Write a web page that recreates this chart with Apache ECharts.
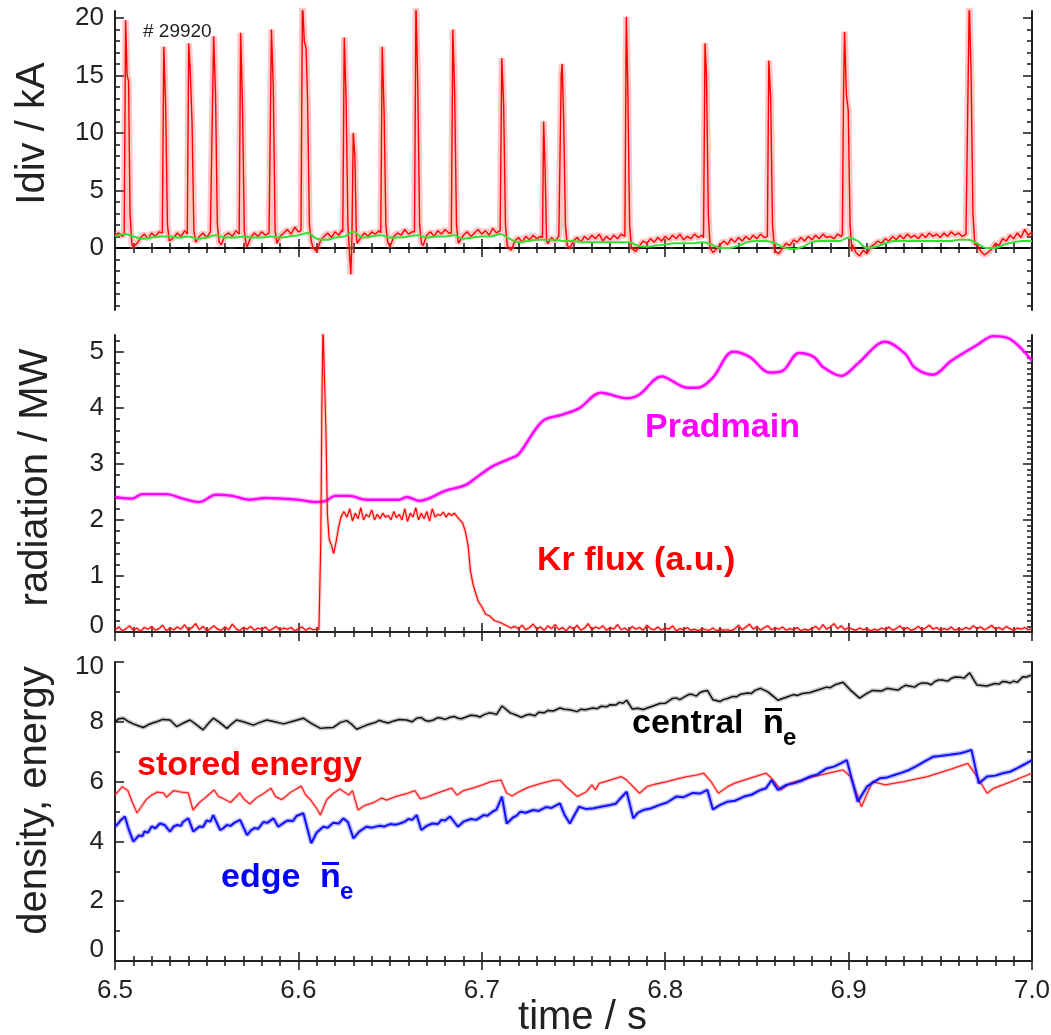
<!DOCTYPE html>
<html>
<head>
<meta charset="utf-8">
<title>#29920 divertor current, radiation, density and stored energy</title>
<script src="https://cdn.jsdelivr.net/npm/echarts@6/dist/echarts.min.js"></script>
<style>
  html, body { margin: 0; padding: 0; background: #ffffff; }
  #chart { width: 1051px; height: 1035px; }
</style>
</head>
<body>
<div id="chart"></div>
<script>
// ---------------- data ----------------
// Divertor current (kA): background trace sampled every 2 ms from 6.500 s
const idivStart = 6.5, idivStep = 0.002;
const idivBase = [
  1.1, 1.3, 1.0, 1.2, 0.9, 0.1, 0.4, 0.9, 1.2, 0.8,
  1.3, 1.0, 1.4, 1.1, 1.2, 0.5, 0.9, 1.3, 1.0, 1.5,
  1.1, 0.8, 0.2, 1.0, 1.3, 0.9, 1.4, 1.2, 0.8, 0.3,
  1.1, 1.3, 1.0, 1.5, 1.2, 0.9, 0.1, 0.9, 1.3, 1.0,
  1.4, 1.1, 1.3, 0.8, 0.2, 1.0, 1.3, 1.6, 1.2, 1.8,
  1.4, 1.5, 1.2, 0.9, 0.0, -0.3, 0.6, 1.0, 1.3, 0.9,
  1.4, 1.1, 1.6, 1.2, -0.4, 1.0, 0.4, 0.9, 1.3, 1.0,
  1.4, 1.2, 1.5, 1.1, 0.6, 0.1, 1.0, 1.3, 1.1, 1.6,
  1.2, 1.4, 1.2, 0.8, 0.2, 1.1, 1.4, 1.0, 1.5, 1.2,
  1.6, 1.3, 1.2, 0.7, 0.3, 1.1, 1.4, 1.0, 1.3, 1.6,
  1.2, 1.5, 1.1, 1.7, 1.3, 1.5, 1.0, 0.2, -0.2, 0.6,
  0.9, 0.5, 1.0, 0.7, 1.1, 0.8, 1.0, 0.8, 0.4, 0.9,
  0.6, 1.0, 0.8, 0.3, 0.0, 0.6, 0.9, 0.5, 1.0, 0.7,
  1.1, 0.8, 1.2, 0.6, 1.0, 0.7, 1.1, 0.8, 1.2, 0.9,
  0.7, 0.1, -0.3, 0.2, 0.6, 0.4, 0.8, 0.5, 0.9, 0.6,
  1.0, 0.7, 1.1, 0.8, 1.2, 0.7, 1.0, 0.8, 1.2, 0.9,
  1.1, 0.8, 0.0, -0.4, -0.1, 0.3, 0.6, 0.3, 0.8, 0.5,
  0.9, 0.6, 1.0, 0.7, 1.1, 0.8, 1.2, 0.9, 1.0, 0.2,
  -0.3, -0.5, 0.0, 0.4, 0.2, 0.7, 0.5, 0.9, 0.6, 1.0,
  0.7, 1.1, 0.8, 1.2, 0.9, 1.0, 0.8, 1.2, 1.0, 1.3,
  1.1, 0.3, -0.4, -0.7, -0.2, -0.5, 0.1, 0.3, 0.6, 0.4,
  0.8, 0.6, 1.0, 0.7, 1.1, 0.8, 1.2, 0.9, 1.1, 0.8,
  1.2, 0.9, 1.3, 1.0, 1.2, 0.9, 1.3, 1.0, 1.4, 1.1,
  1.3, 1.0, 1.2, 1.1, 0.9, 0.3, -0.3, -0.6, -0.4, -0.1,
  0.4, 0.2, 0.8, 0.6, 1.1, 0.8, 1.3, 0.9, 1.6, 1.1,
  1.4
];
// ELM bursts in the divertor current: [time (s), current (kA)]
const idivBursts = [
  [[6.5050, 1.2], [6.5058, 19.8], [6.5066, 15.0], [6.5074, 14.5], [6.5082, 3.0], [6.5092, 0.3]],
  [[6.5258, 1.3], [6.5266, 17.5], [6.5276, 12.5], [6.5286, 2.0], [6.5296, 0.6]],
  [[6.5394, 1.2], [6.5402, 17.8], [6.5410, 15.5], [6.5420, 11.0], [6.5430, 1.5], [6.5440, 0.5]],
  [[6.5530, 1.3], [6.5538, 18.4], [6.5548, 13.5], [6.5558, 2.0], [6.5568, 0.5]],
  [[6.5677, 1.2], [6.5685, 18.7], [6.5695, 12.5], [6.5705, 1.5], [6.5715, 0.3]],
  [[6.5845, 1.2], [6.5853, 19.0], [6.5863, 14.0], [6.5873, 1.5], [6.5883, 0.4]],
  [[6.6014, 1.5], [6.6022, 21.5], [6.6032, 18.0], [6.6042, 17.3], [6.6050, 13.0], [6.6060, 2.0], [6.6070, 0.6]],
  [[6.6242, 1.4], [6.6250, 18.3], [6.6260, 13.0], [6.6270, 2.0], [6.6278, -0.3], [6.6286, -2.3],
   [6.6292, 1.0], [6.6299, 10.0], [6.6308, 8.0], [6.6316, 1.0]],
  [[6.6449, 1.3], [6.6457, 17.5], [6.6467, 12.0], [6.6477, 2.0], [6.6487, 0.5]],
  [[6.6633, 1.4], [6.6641, 21.5], [6.6651, 14.0], [6.6661, 2.0], [6.6671, 0.4]],
  [[6.6834, 1.3], [6.6842, 19.0], [6.6852, 13.5], [6.6862, 2.0], [6.6872, 0.4]],
  [[6.7101, 1.5], [6.7109, 16.5], [6.7119, 12.5], [6.7129, 2.0], [6.7139, 0.2]],
  [[6.7331, 0.9], [6.7337, 11.0], [6.7345, 7.0], [6.7353, 0.6]],
  [[6.7425, 1.0], [6.7433, 15.0], [6.7438, 16.0], [6.7446, 11.5], [6.7456, 2.0], [6.7466, 0.2]],
  [[6.7780, 1.0], [6.7788, 20.1], [6.7796, 14.0], [6.7806, 2.0], [6.7816, 0.0]],
  [[6.8209, 0.9], [6.8217, 17.8], [6.8225, 15.0], [6.8235, 3.0], [6.8245, 0.0]],
  [[6.8557, 1.0], [6.8565, 16.3], [6.8575, 13.0], [6.8585, 2.0], [6.8595, 0.0]],
  [[6.8966, 1.2], [6.8972, 13.0], [6.8978, 18.8], [6.8988, 13.3], [6.8998, 12.0], [6.9008, 2.0], [6.9018, -0.3]],
  [[6.9650, 1.2], [6.9658, 21.5], [6.9668, 15.0], [6.9678, 3.0], [6.9688, 0.3]]
];
// Smoothed divertor current (kA), every 5 ms from 6.500 s
const idivSmoothStep = 0.005;
const idivSmooth = [
  1.0, 1.2, 1.0, 0.8, 0.9, 1.0, 1.0, 0.9, 1.0, 0.8,
  0.9, 1.1, 0.9, 0.9, 1.0, 0.9, 0.9, 1.0, 0.9, 1.0,
  1.1, 1.3, 0.8, 0.7, 0.9, 1.0, 1.4, 0.9, 1.0, 1.1,
  0.9, 0.9, 1.0, 1.1, 0.9, 1.0, 1.0, 1.1, 0.8, 0.9,
  1.0, 1.0, 1.2, 0.8, 0.5, 0.6, 0.7, 0.7, 0.7, 0.6,
  0.6, 0.5, 0.5, 0.5, 0.5, 0.5, 0.5, 0.2, 0.1, 0.2,
  0.3, 0.4, 0.4, 0.4, 0.5, 0.3, 0.0, 0.0, 0.2, 0.5,
  0.6, 0.6, 0.4, 0.0, -0.1, 0.1, 0.5, 0.6, 0.6, 0.6,
  0.9, 0.6, 0.0, 0.1, 0.4, 0.6, 0.6, 0.6, 0.6, 0.6,
  0.6, 0.6, 0.7, 0.7, 0.4, 0.0, 0.0, 0.3, 0.5, 0.6,
  0.6
];

// Main-chamber radiated power (MW): [time, value]
const pradMain = [
  [6.500, 2.41], [6.509, 2.38], [6.515, 2.46], [6.528, 2.46], [6.537, 2.38], [6.546, 2.32],
  [6.555, 2.45], [6.564, 2.43], [6.573, 2.36], [6.582, 2.39], [6.600, 2.36], [6.609, 2.32],
  [6.615, 2.34], [6.620, 2.43], [6.628, 2.43], [6.637, 2.36], [6.655, 2.36], [6.659, 2.41],
  [6.666, 2.34], [6.671, 2.38], [6.680, 2.52], [6.691, 2.62], [6.698, 2.78], [6.706, 2.96],
  [6.715, 3.09], [6.720, 3.17], [6.733, 3.76], [6.744, 3.88], [6.753, 3.99], [6.765, 4.27],
  [6.779, 4.17], [6.786, 4.24], [6.798, 4.56], [6.812, 4.36], [6.818, 4.36], [6.826, 4.54],
  [6.837, 5.00], [6.846, 4.91], [6.857, 4.63], [6.864, 4.66], [6.873, 4.98], [6.881, 4.91],
  [6.886, 4.73], [6.896, 4.57], [6.905, 4.79], [6.920, 5.18], [6.931, 4.96], [6.936, 4.72],
  [6.946, 4.59], [6.956, 4.84], [6.970, 5.12], [6.979, 5.28], [6.988, 5.23], [7.000, 4.84]
];
// Kr puff flux (a.u.): quiet signal before the puff, every 2 ms from 6.500 s
const krStep = 0.002;
const krBefore = [
  0.04, 0.09, 0.02, 0.06, 0.11, 0.03, 0.07, 0.01, 0.08, 0.05,
  0.10, 0.03, 0.06, 0.12, 0.02, 0.07, 0.04, 0.09, 0.05, 0.13,
  0.03, 0.08, 0.15, 0.04, 0.10, 0.02, 0.06, 0.11, 0.05, 0.03,
  0.09, 0.04, 0.14, 0.06, 0.02, 0.08, 0.05, 0.10, 0.03, 0.07,
  0.04, 0.09, 0.02, 0.06, 0.10, 0.03, 0.07, 0.05, 0.08, 0.02,
  0.06, 0.09, 0.03, 0.07, 0.04, 0.05
];
// Kr puff flux during the puff: [time, value]
const krPuff = [
  [6.6112, 0.05], [6.6122, 1.60], [6.6128, 4.00], [6.6134, 5.50], [6.6142, 5.50], [6.6150, 3.60],
  [6.6158, 2.10], [6.6168, 1.65], [6.6180, 1.55], [6.6192, 1.40], [6.6205, 1.60], [6.6218, 1.85],
  [6.6232, 2.05], [6.6248, 2.15], [6.6265, 2.05], [6.6280, 2.20], [6.6295, 1.98], [6.6310, 2.12],
  [6.6325, 2.02], [6.6340, 2.22], [6.6355, 2.00], [6.6370, 2.10], [6.6385, 2.05], [6.6400, 2.18],
  [6.6415, 2.00], [6.6430, 2.10], [6.6445, 2.02], [6.6460, 2.12], [6.6475, 2.05], [6.6490, 2.08],
  [6.6505, 2.00], [6.6520, 2.15], [6.6535, 2.04], [6.6550, 2.10], [6.6565, 2.00], [6.6580, 2.20],
  [6.6595, 1.97], [6.6610, 2.12], [6.6625, 2.05], [6.6640, 2.22], [6.6655, 2.00], [6.6670, 2.12],
  [6.6685, 2.02], [6.6700, 2.15], [6.6715, 1.98], [6.6730, 2.20], [6.6745, 2.05], [6.6760, 2.10],
  [6.6775, 2.08], [6.6790, 2.14], [6.6805, 2.05], [6.6820, 2.12], [6.6835, 2.08], [6.6850, 2.12],
  [6.6865, 2.06], [6.6880, 2.00], [6.6895, 1.95], [6.6910, 1.80], [6.6925, 1.55], [6.6938, 1.10],
  [6.6952, 0.85], [6.6966, 0.70], [6.6980, 0.55], [6.7000, 0.45], [6.7020, 0.32], [6.7045, 0.28],
  [6.7070, 0.20], [6.7100, 0.17], [6.7130, 0.12], [6.7160, 0.07]
];
// Kr puff flux after the puff, every 2 ms from 6.718 s
const krAfterStart = 6.718;
const krAfter = [
  0.10, 0.06, 0.12, 0.04, 0.08, 0.14, 0.05, 0.09, 0.03, 0.11,
  0.06, 0.13, 0.04, 0.08, 0.02, 0.10, 0.05, 0.12, 0.03, 0.07,
  0.15, 0.04, 0.09, 0.06, 0.11, 0.03, 0.08, 0.05, 0.13, 0.04,
  0.07, 0.02, 0.10, 0.05, 0.08, 0.03, 0.12, 0.06, 0.04, 0.09,
  0.03, 0.07, 0.05, 0.11, 0.02, 0.06, 0.04, 0.08, 0.03, 0.05,
  0.02, 0.06, 0.04, 0.03, 0.07, 0.02, 0.05, 0.03, 0.04, 0.02,
  0.06, 0.12, 0.04, 0.09, 0.14, 0.05, 0.10, 0.03, 0.08, 0.11,
  0.04, 0.07, 0.05, 0.09, 0.03, 0.06, 0.04, 0.08, 0.02, 0.05,
  0.03, 0.06, 0.10, 0.04, 0.13, 0.05, 0.09, 0.15, 0.06, 0.11,
  0.04, 0.08, 0.05, 0.03, 0.07, 0.04, 0.06, 0.02, 0.05, 0.03,
  0.07, 0.04, 0.09, 0.03, 0.06, 0.11, 0.04, 0.08, 0.03, 0.05,
  0.10, 0.04, 0.07, 0.12, 0.05, 0.08, 0.03, 0.06, 0.04, 0.09,
  0.03, 0.06, 0.04, 0.08, 0.05, 0.11, 0.06, 0.09, 0.04, 0.07,
  0.12, 0.05, 0.08, 0.04, 0.10, 0.06, 0.03, 0.07, 0.05, 0.08,
  0.04, 0.06
];

// Central line-averaged density (1e19 m^-3): [time, value]
const centralNe = [
  [6.500, 8.00], [6.502, 8.10], [6.5045, 8.12], [6.507, 8.02], [6.510, 7.93], [6.513, 7.86],
  [6.5155, 7.81], [6.518, 7.90], [6.5205, 7.96], [6.5227, 8.00], [6.526, 8.08], [6.530, 8.06],
  [6.5336, 7.84], [6.537, 7.95], [6.5409, 8.06], [6.544, 7.92], [6.548, 7.73], [6.551, 7.95],
  [6.5536, 8.12], [6.557, 7.98], [6.561, 7.78], [6.5635, 7.92], [6.5663, 8.06], [6.570, 8.00],
  [6.5754, 7.89], [6.579, 7.98], [6.5827, 8.06], [6.587, 8.00], [6.592, 7.93], [6.597, 8.02],
  [6.6027, 8.12], [6.607, 7.95], [6.612, 7.78], [6.6155, 7.80], [6.619, 7.81], [6.623, 7.98],
  [6.6263, 8.04], [6.629, 7.92], [6.6318, 7.75], [6.6345, 7.82], [6.6372, 7.89], [6.642, 7.98],
  [6.644, 8.05], [6.6463, 8.00], [6.649, 7.96], [6.652, 8.03], [6.655, 8.08], [6.659, 8.06],
  [6.662, 8.00], [6.6645, 8.12], [6.667, 8.14], [6.669, 8.05], [6.671, 8.02], [6.6736, 8.06],
  [6.676, 8.14], [6.678, 8.12], [6.680, 8.08], [6.6827, 8.15], [6.685, 8.18], [6.687, 8.12],
  [6.689, 8.10], [6.6918, 8.17], [6.694, 8.22], [6.697, 8.20], [6.699, 8.16], [6.701, 8.23],
  [6.704, 8.30], [6.7064, 8.28], [6.708, 8.24], [6.711, 8.53], [6.7155, 8.30], [6.719, 8.22],
  [6.7215, 8.15], [6.724, 8.22], [6.726, 8.25], [6.729, 8.20], [6.731, 8.32], [6.734, 8.30],
  [6.736, 8.38], [6.739, 8.36], [6.7426, 8.46], [6.745, 8.42], [6.748, 8.40], [6.752, 8.34],
  [6.754, 8.42], [6.7565, 8.40], [6.7606, 8.46], [6.763, 8.44], [6.765, 8.52], [6.768, 8.50],
  [6.770, 8.57], [6.773, 8.56], [6.775, 8.65], [6.777, 8.62], [6.779, 8.72], [6.782, 8.43],
  [6.785, 8.45], [6.788, 8.41], [6.791, 8.48], [6.793, 8.52], [6.797, 8.61], [6.800, 8.62],
  [6.802, 8.70], [6.804, 8.78], [6.806, 8.80], [6.808, 8.74], [6.811, 8.85], [6.813, 8.92],
  [6.815, 8.91], [6.817, 8.86], [6.819, 8.98], [6.821, 9.02], [6.823, 9.05], [6.826, 8.74],
  [6.830, 8.68], [6.832, 8.75], [6.834, 8.78], [6.837, 8.85], [6.839, 8.84], [6.841, 8.92],
  [6.845, 8.96], [6.847, 8.95], [6.849, 9.05], [6.852, 9.12], [6.856, 9.00], [6.859, 8.85],
  [6.8615, 8.72], [6.864, 8.78], [6.866, 8.82], [6.870, 8.91], [6.872, 8.88], [6.875, 8.95],
  [6.879, 8.98], [6.882, 9.04], [6.884, 9.08], [6.888, 9.16], [6.890, 9.14], [6.893, 9.25],
  [6.897, 9.32], [6.901, 9.06], [6.906, 8.79], [6.910, 8.95], [6.913, 9.05], [6.918, 9.03],
  [6.921, 9.12], [6.924, 9.09], [6.927, 9.06], [6.929, 9.15], [6.931, 9.22], [6.933, 9.20],
  [6.936, 9.16], [6.938, 9.25], [6.940, 9.30], [6.943, 9.29], [6.945, 9.24], [6.947, 9.35],
  [6.949, 9.40], [6.951, 9.40], [6.954, 9.36], [6.956, 9.45], [6.958, 9.50], [6.961, 9.49],
  [6.963, 9.46], [6.966, 9.64], [6.970, 9.23], [6.9755, 9.20], [6.978, 9.25], [6.980, 9.28],
  [6.982, 9.26], [6.984, 9.35], [6.986, 9.34], [6.988, 9.30], [6.990, 9.36], [6.992, 9.32],
  [6.995, 9.51], [6.997, 9.50], [7.000, 9.57]
];
// Stored energy (100 kJ): [time, value]
const storedEnergy = [
  [6.500, 5.55], [6.504, 5.83], [6.507, 5.70], [6.5095, 5.30], [6.512, 4.95], [6.517, 5.40],
  [6.520, 5.55], [6.523, 5.65], [6.5265, 5.62], [6.528, 5.48], [6.532, 5.70], [6.536, 5.65],
  [6.540, 5.62], [6.5425, 5.05], [6.546, 5.30], [6.549, 5.45], [6.554, 5.72], [6.5565, 5.50],
  [6.5585, 5.45], [6.563, 5.30], [6.568, 5.62], [6.5705, 5.40], [6.5735, 5.25], [6.577, 5.45],
  [6.581, 5.60], [6.585, 5.78], [6.5875, 5.50], [6.591, 5.40], [6.596, 5.65], [6.6015, 5.85],
  [6.604, 5.55], [6.6065, 5.40], [6.610, 5.10], [6.612, 4.88], [6.6155, 5.40], [6.619, 5.60],
  [6.6225, 5.75], [6.625, 5.65], [6.6275, 5.55], [6.6295, 5.70], [6.6325, 5.05], [6.636, 5.20],
  [6.641, 5.30], [6.6455, 5.45], [6.648, 5.38], [6.653, 5.50], [6.659, 5.60], [6.6635, 5.70],
  [6.6665, 5.42], [6.670, 5.48], [6.676, 5.62], [6.6835, 5.78], [6.6865, 5.55], [6.690, 5.70],
  [6.695, 5.78], [6.700, 5.88], [6.705, 6.00], [6.7105, 6.05], [6.7135, 5.62], [6.7165, 5.52],
  [6.720, 5.65], [6.725, 5.80], [6.730, 5.90], [6.735, 5.98], [6.7395, 6.05], [6.7426, 6.05],
  [6.746, 5.83], [6.752, 5.50], [6.757, 5.66], [6.760, 5.89], [6.762, 5.72], [6.764, 5.94],
  [6.770, 6.05], [6.776, 6.17], [6.779, 6.05], [6.786, 5.61], [6.790, 5.83], [6.795, 5.92],
  [6.801, 6.00], [6.806, 6.08], [6.812, 6.17], [6.817, 6.22], [6.821, 6.28], [6.825, 6.00],
  [6.829, 5.61], [6.834, 5.83], [6.838, 5.95], [6.843, 6.05], [6.849, 6.17], [6.855, 6.28],
  [6.858, 6.11], [6.863, 5.72], [6.868, 5.94], [6.874, 6.05], [6.881, 6.17], [6.889, 6.28],
  [6.897, 6.39], [6.901, 6.17], [6.907, 5.16], [6.913, 6.00], [6.920, 5.89], [6.930, 6.00],
  [6.943, 6.17], [6.955, 6.40], [6.965, 6.61], [6.970, 6.17], [6.9755, 5.61], [6.979, 5.77],
  [6.988, 5.98], [7.000, 6.28]
];
// Edge line-averaged density (1e19 m^-3): [time, value]
const edgeNe = [
  [6.500, 4.49], [6.502, 4.62], [6.503, 4.70], [6.5054, 4.83], [6.5075, 4.40], [6.510, 3.99],
  [6.513, 4.20], [6.515, 4.18], [6.516, 4.33], [6.518, 4.30], [6.520, 4.50], [6.522, 4.44],
  [6.5245, 4.60], [6.527, 4.55], [6.530, 4.33], [6.532, 4.50], [6.534, 4.55], [6.536, 4.52],
  [6.537, 4.65], [6.540, 4.77], [6.5427, 4.33], [6.546, 4.50], [6.548, 4.48], [6.550, 4.70],
  [6.552, 4.66], [6.5536, 4.88], [6.5573, 4.38], [6.559, 4.44], [6.561, 4.55], [6.563, 4.52],
  [6.565, 4.62], [6.5682, 4.72], [6.572, 4.21], [6.574, 4.36], [6.576, 4.45], [6.578, 4.42],
  [6.581, 4.65], [6.583, 4.62], [6.5864, 4.77], [6.589, 4.49], [6.592, 4.62], [6.594, 4.70],
  [6.597, 4.68], [6.599, 4.85], [6.6027, 4.94], [6.607, 3.94], [6.610, 4.30], [6.6136, 4.49],
  [6.616, 4.46], [6.619, 4.62], [6.622, 4.60], [6.6245, 4.77], [6.627, 4.65], [6.630, 4.10],
  [6.633, 4.32], [6.637, 4.49], [6.640, 4.46], [6.644, 4.52], [6.647, 4.50], [6.650, 4.58],
  [6.653, 4.56], [6.6554, 4.60], [6.658, 4.66], [6.660, 4.75], [6.662, 4.72], [6.6645, 4.88],
  [6.667, 4.38], [6.670, 4.52], [6.673, 4.60], [6.676, 4.58], [6.678, 4.72], [6.680, 4.70],
  [6.6827, 4.83], [6.687, 4.49], [6.690, 4.66], [6.694, 4.75], [6.697, 4.72], [6.701, 4.88],
  [6.703, 4.86], [6.706, 5.00], [6.708, 5.06], [6.711, 5.50], [6.7136, 4.60], [6.717, 4.80],
  [6.719, 4.86], [6.721, 4.99], [6.724, 4.96], [6.728, 5.05], [6.731, 5.02], [6.735, 5.15],
  [6.738, 5.12], [6.7426, 5.27], [6.745, 4.90], [6.748, 4.60], [6.753, 5.16], [6.757, 5.08],
  [6.761, 5.11], [6.765, 5.16], [6.770, 5.22], [6.773, 5.26], [6.775, 5.40], [6.779, 5.66],
  [6.7826, 4.77], [6.785, 4.95], [6.788, 5.05], [6.792, 5.10], [6.797, 5.22], [6.801, 5.30],
  [6.806, 5.50], [6.810, 5.48], [6.815, 5.62], [6.819, 5.60], [6.823, 5.72], [6.826, 5.07],
  [6.830, 5.22], [6.834, 5.33], [6.838, 5.36], [6.843, 5.50], [6.847, 5.56], [6.852, 5.72],
  [6.855, 5.78], [6.858, 6.05], [6.8615, 5.72], [6.866, 5.89], [6.870, 5.94], [6.874, 6.02],
  [6.879, 6.17], [6.883, 6.24], [6.888, 6.44], [6.892, 6.50], [6.896, 6.62], [6.899, 6.72],
  [6.905, 5.33], [6.910, 5.83], [6.914, 6.00], [6.917, 6.11], [6.921, 6.14], [6.925, 6.22],
  [6.929, 6.30], [6.933, 6.39], [6.937, 6.52], [6.941, 6.66], [6.946, 6.83], [6.950, 6.86],
  [6.955, 6.90], [6.961, 6.95], [6.964, 7.00], [6.967, 7.06], [6.971, 5.94], [6.9755, 6.17],
  [6.980, 6.20], [6.984, 6.28], [6.988, 6.33], [6.992, 6.45], [6.996, 6.58], [7.000, 6.72]
];

// Axis ticks and labels
const timeRange = [6.5, 7.0];
const idivRange = [-5.4, 20.6];
const idivMajor = [0, 5, 10, 15, 20];
const idivMinor = [-5, -4, -3, -2, -1, 1, 2, 3, 4, 6, 7, 8, 9, 11, 12, 13, 14, 16, 17, 18, 19];
const radRange = [0, 5.3];
const radMajor = [0, 1, 2, 3, 4, 5];
const radMinorLeft = [0.2, 0.4, 0.6, 0.8, 1.2, 1.4, 1.6, 1.8, 2.2, 2.4, 2.6, 2.8,
  3.2, 3.4, 3.6, 3.8, 4.2, 4.4, 4.6, 4.8, 5.2];
const radMinorRight = [0.1, 0.2, 0.3, 0.4, 0.5, 0.6, 0.7, 0.8, 0.9, 1.1, 1.2, 1.3, 1.4, 1.5,
  1.6, 1.7, 1.8, 1.9, 2.1, 2.2, 2.3, 2.4, 2.5, 2.6, 2.7, 2.8, 2.9, 3.1, 3.2, 3.3, 3.4, 3.5,
  3.6, 3.7, 3.8, 3.9, 4.1, 4.2, 4.3, 4.4, 4.5, 4.6, 4.7, 4.8, 4.9, 5.1, 5.2];
const denRange = [0, 10];
const denMajor = [0, 2, 4, 6, 8, 10];
const denMinor = [1, 3, 5, 7, 9];

// ---------------- series builders ----------------
function gridPairs(t0, dt, values) {
  return values.map((v, i) => [Math.round((t0 + i * dt) * 10000) / 10000, v]);
}
function mergeBursts(base, bursts) {
  const windows = bursts.map(b => [b[0][0], b[b.length - 1][0]]);
  const kept = base.filter(p => !windows.some(w => p[0] >= w[0] && p[0] <= w[1]));
  const all = kept.concat(...bursts);
  all.sort((a, b) => a[0] - b[0]);
  return all;
}
const byTime = arr => arr.slice().sort((a, b) => a[0] - b[0]);
const idivData = mergeBursts(gridPairs(idivStart, idivStep, idivBase), idivBursts);
const idivSmoothData = gridPairs(idivStart, idivSmoothStep, idivSmooth);
const krData = gridPairs(6.5, krStep, krBefore)
  .concat(krPuff)
  .concat(gridPairs(krAfterStart, krStep, krAfter));

// ---------------- layout & styles ----------------
const FONT = '"Liberation Sans", Arial, Helvetica, sans-serif';
const INK = '#222222';
const gridBox = { left: 115, width: 917, outerBoundsMode: 'none', containLabel: false };
const grids = [
  Object.assign({ top: 11, height: 299 }, gridBox),
  Object.assign({ top: 335, height: 297 }, gridBox),
  Object.assign({ top: 662, height: 299 }, gridBox)
];
const frameLine = { show: true, lineStyle: { color: INK, width: 2 } };
const tickLine = { color: INK, width: 1.6 };

function timeAxes(g, withLabels) {
  const common = {
    type: 'value', gridIndex: g, min: timeRange[0], max: timeRange[1], interval: 0.1,
    axisLine: frameLine,
    axisTick: { show: true, inside: true, length: 9, lineStyle: tickLine },
    minorTick: { show: true, inside: true, splitNumber: 10, length: 5, lineStyle: tickLine },
    splitLine: { show: false }, minorSplitLine: { show: false }
  };
  const bottom = Object.assign({}, common, {
    position: 'bottom',
    axisLabel: {
      show: withLabels, margin: 17, color: INK, fontFamily: FONT, fontSize: 26,
      formatter: v => v.toFixed(1)
    }
  });
  if (withLabels) {
    Object.assign(bottom, {
      name: 'time / s', nameLocation: 'middle', nameGap: 37, nameMoveOverlap: false,
      nameTextStyle: { color: INK, fontFamily: FONT, fontSize: 40, padding: [0, 0, 0, 18] }
    });
  }
  const top = Object.assign({}, common, { position: 'top', axisLabel: { show: false } });
  return [bottom, top];
}

function valueAxes(g, range, major, minorL, minorR, label) {
  const base = {
    type: 'value', gridIndex: g, min: range[0], max: range[1],
    splitLine: { show: false }
  };
  const leftMajor = Object.assign({}, base, {
    position: 'left',
    axisLine: frameLine,
    axisTick: { show: true, inside: true, length: 9, lineStyle: tickLine, customValues: major },
    axisLabel: Object.assign({
      show: true, margin: 11, color: INK, fontFamily: FONT, fontSize: 26, customValues: major
    }, label.axisLabel || {}),
    name: label.name, nameLocation: 'middle', nameGap: label.gap, nameMoveOverlap: false,
    nameTextStyle: { color: INK, fontFamily: FONT, fontSize: 40, padding: label.padding || 0 }
  });
  const leftMinor = Object.assign({}, base, {
    position: 'left',
    axisLine: { show: false },
    axisTick: { show: true, inside: true, length: 5, lineStyle: tickLine, customValues: minorL },
    axisLabel: { show: false }
  });
  const rightMajor = Object.assign({}, base, {
    position: 'right',
    axisLine: frameLine,
    axisTick: { show: true, inside: true, length: 9, lineStyle: tickLine, customValues: major },
    axisLabel: { show: false }
  });
  const rightMinor = Object.assign({}, base, {
    position: 'right',
    axisLine: { show: false },
    axisTick: { show: true, inside: true, length: 5, lineStyle: tickLine, customValues: minorR },
    axisLabel: { show: false }
  });
  return [leftMajor, leftMinor, rightMajor, rightMinor];
}

const xAxes = [].concat(timeAxes(0, false), timeAxes(1, false), timeAxes(2, true));
const yAxes = [].concat(
  valueAxes(0, idivRange, idivMajor, idivMinor, idivMinor,
    { name: 'Idiv / kA', gap: 62, padding: [0, 0, 0, 54] }),
  valueAxes(1, radRange, radMajor, radMinorLeft, radMinorRight,
    {
      name: 'radiation / MW', gap: 59, padding: [0, 0, 0, 12],
      axisLabel: {
        formatter: v => (v === 0 ? '{lo|0}' : String(v)),
        rich: { lo: { fontFamily: FONT, fontSize: 26, color: INK, padding: [0, 0, 12, 0] } }
      }
    }),
  valueAxes(2, denRange, denMajor, denMinor, denMinor,
    {
      name: 'density, energy', gap: 60, padding: [0, 0, 0, 22],
      axisLabel: {
        formatter: v => (v === 0 ? '{lo|0}' : v === 10 ? '{hi|10}' : String(v)),
        rich: {
          lo: { fontFamily: FONT, fontSize: 26, color: INK, padding: [0, 0, 22, 0] },
          hi: { fontFamily: FONT, fontSize: 26, color: INK, padding: [10, 0, 0, 0] }
        }
      }
    })
);

function line(name, g, data, color, width, extra) {
  return Object.assign({
    name, type: 'line', xAxisIndex: 2 * g, yAxisIndex: 4 * g, data,
    showSymbol: false, symbol: 'none', clip: true, silent: true,
    lineStyle: { color, width }
  }, extra || {});
}

const series = [
  line('zero', 0, [[timeRange[0], 0], [timeRange[1], 0]], '#000000', 2,
    { lineStyle: { color: '#000000', width: 2, type: [14, 6] } }),
  line('Idiv halo', 0, idivData, 'rgba(255,80,80,0.32)', 6.5),
  line('Idiv', 0, idivData, '#ff0000', 1.4),
  line('Idiv smoothed', 0, idivSmoothData, '#33e033', 2, { smooth: 0.4 }),
  line('Pradmain halo', 1, pradMain, 'rgba(255,0,255,0.25)', 5, { smooth: 0.35 }),
  line('Pradmain', 1, pradMain, '#ff00ff', 2.4, { smooth: 0.35 }),
  line('Kr flux halo', 1, krData, 'rgba(255,60,60,0.25)', 3.5),
  line('Kr flux', 1, krData, '#ff0000', 1.2),
  line('central ne halo', 2, byTime(centralNe), 'rgba(0,0,0,0.22)', 4.5),
  line('central ne', 2, byTime(centralNe), '#111111', 1.5),
  line('stored energy halo', 2, byTime(storedEnergy), 'rgba(255,40,40,0.22)', 3.5),
  line('stored energy', 2, byTime(storedEnergy), '#ff2020', 1.3),
  line('edge ne halo', 2, byTime(edgeNe), 'rgba(20,20,255,0.28)', 5),
  line('edge ne', 2, byTime(edgeNe), '#1010ff', 2)
];

// ---------------- annotations ----------------
const BOLD = 'bold';
function label(text, x, y, color, size, weight) {
  return {
    type: 'text', x, y, silent: true,
    style: {
      text, fill: color, fontFamily: FONT, fontSize: size, fontWeight: weight || 'normal',
      align: 'left', verticalAlign: 'middle'
    }
  };
}
function bar(x, y, w, color) {
  return { type: 'rect', silent: true, shape: { x, y, width: w, height: 3 }, style: { fill: color } };
}
const graphics = [
  label('# 29920', 143, 32, INK, 19),
  label('Pradmain', 645, 428, '#ff00ff', 34, BOLD),
  label('Kr flux (a.u.)', 537, 561, '#ff0000', 34, BOLD),
  label('stored energy', 137, 766, '#ff0000', 34, BOLD),
  label('central', 632, 724, '#000000', 34, BOLD),
  label('n', 763, 724, '#000000', 34, BOLD),
  bar(765, 708, 17, '#000000'),
  label('e', 783, 738, '#000000', 24, BOLD),
  label('edge', 221, 878, '#0000ff', 34, BOLD),
  label('n', 320, 878, '#0000ff', 34, BOLD),
  bar(322, 862, 17, '#0000ff'),
  label('e', 340, 892, '#0000ff', 24, BOLD)
];

const chart = echarts.init(document.getElementById('chart'), null, { renderer: 'canvas' });
chart.setOption({
  animation: false,
  backgroundColor: '#ffffff',
  grid: grids,
  xAxis: xAxes,
  yAxis: yAxes,
  series,
  graphic: graphics
});
</script>
</body>
</html>
